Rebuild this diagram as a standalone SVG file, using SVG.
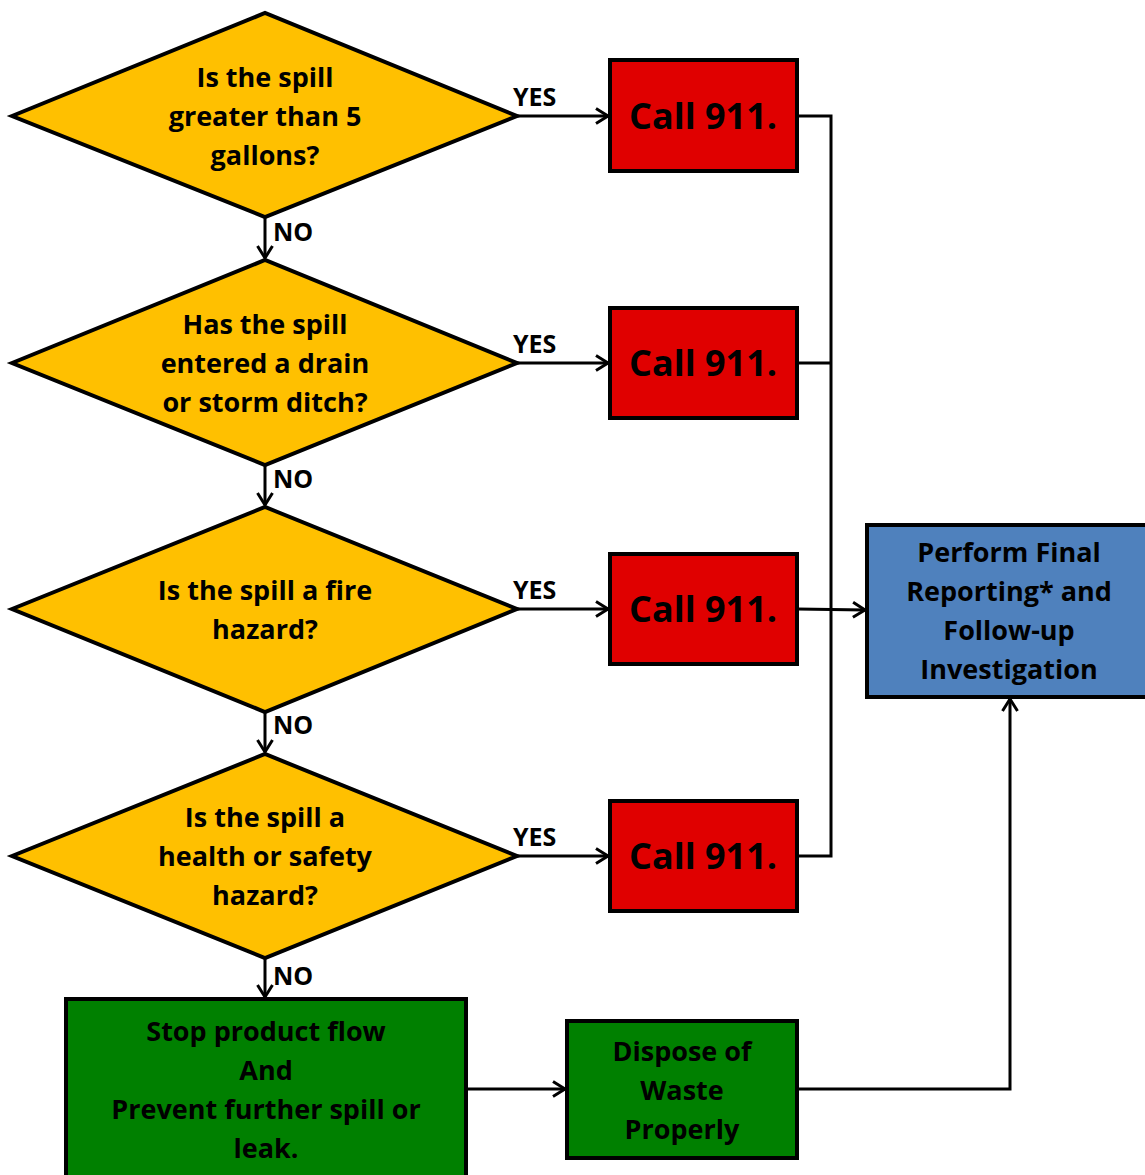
<svg xmlns="http://www.w3.org/2000/svg" width="1145" height="1175" viewBox="0 0 1145 1175">
<defs>
<marker id="arr" markerWidth="18" markerHeight="18" refX="14" refY="9" orient="auto" markerUnits="userSpaceOnUse">
<path d="M2,1.5 L14,9 L2,16.5" fill="none" stroke="#000" stroke-width="3"/>
</marker>
<style>
.dia{fill:#FFC000;stroke:#000;stroke-width:4;stroke-linejoin:miter}
.red{fill:#E00000;stroke:#000;stroke-width:4}
.blue{fill:#4F81BD;stroke:#000;stroke-width:4}
.green{fill:#008000;stroke:#000;stroke-width:4}
text{font-family:"Open Sans",Lato,"Liberation Sans",sans-serif;font-weight:bold;fill:#000;text-anchor:middle}
.t{font-size:27px}
.c{font-size:36px}
.lab{font-size:25px;text-anchor:start}
.con{fill:none;stroke:#000;stroke-width:3}
</style>
</defs>
<rect width="1145" height="1175" fill="#fff"/>
<g id="connectors">
<line class="con" x1="517" y1="116" x2="608" y2="116" marker-end="url(#arr)"/>
<line class="con" x1="517" y1="363" x2="608" y2="363" marker-end="url(#arr)"/>
<line class="con" x1="517" y1="609" x2="608" y2="609" marker-end="url(#arr)"/>
<line class="con" x1="517" y1="856" x2="608" y2="856" marker-end="url(#arr)"/>
<line class="con" x1="265" y1="217" x2="265" y2="258" marker-end="url(#arr)"/>
<line class="con" x1="265" y1="465" x2="265" y2="505" marker-end="url(#arr)"/>
<line class="con" x1="265" y1="712" x2="265" y2="752" marker-end="url(#arr)"/>
<line class="con" x1="265" y1="958" x2="265" y2="997" marker-end="url(#arr)"/>
<polyline class="con" points="797,116 831,116 831,856 797,856"/>
<line class="con" x1="797" y1="363" x2="831" y2="363"/>
<line class="con" x1="797" y1="609" x2="865" y2="610" marker-end="url(#arr)"/>
<line class="con" x1="466" y1="1089" x2="565" y2="1089" marker-end="url(#arr)"/>
<polyline class="con" points="797,1089 1010,1089 1010,699" marker-end="url(#arr)"/>
<text class="lab" x="513" y="106">YES</text>
<text class="lab" x="513" y="353">YES</text>
<text class="lab" x="513" y="599">YES</text>
<text class="lab" x="513" y="846">YES</text>
<text class="lab" x="273" y="241">NO</text>
<text class="lab" x="273" y="488">NO</text>
<text class="lab" x="273" y="734">NO</text>
<text class="lab" x="273" y="985">NO</text>
</g>
<g id="d1">
<polygon class="dia" points="12,116 265,13 517,116 265,217"/>
<text class="t" x="265" y="87">Is the spill</text>
<text class="t" x="265" y="126">greater than 5</text>
<text class="t" x="265" y="165">gallons?</text>
</g>
<g id="d2">
<polygon class="dia" points="12,363 265,260 517,363 265,465"/>
<text class="t" x="265" y="334">Has the spill</text>
<text class="t" x="265" y="373">entered a drain</text>
<text class="t" x="265" y="412">or storm ditch?</text>
</g>
<g id="d3">
<polygon class="dia" points="12,609 265,507 517,609 265,712"/>
<text class="t" x="265" y="600">Is the spill a fire</text>
<text class="t" x="265" y="639">hazard?</text>
</g>
<g id="d4">
<polygon class="dia" points="12,856 265,754 517,856 265,958"/>
<text class="t" x="265" y="827">Is the spill a</text>
<text class="t" x="265" y="866">health or safety</text>
<text class="t" x="265" y="905">hazard?</text>
</g>
<g id="r1"><rect class="red" x="610" y="60" width="187" height="111"/><text class="c" x="703" y="129">Call 911.</text></g>
<g id="r2"><rect class="red" x="610" y="308" width="187" height="110"/><text class="c" x="703" y="376">Call 911.</text></g>
<g id="r3"><rect class="red" x="610" y="554" width="187" height="110"/><text class="c" x="703" y="622">Call 911.</text></g>
<g id="r4"><rect class="red" x="610" y="801" width="187" height="110"/><text class="c" x="703" y="869">Call 911.</text></g>
<g id="blue">
<rect class="blue" x="867" y="525" width="285" height="172"/>
<text class="t" x="1009" y="562">Perform Final</text>
<text class="t" x="1009" y="601">Reporting* and</text>
<text class="t" x="1009" y="640">Follow-up</text>
<text class="t" x="1009" y="679">Investigation</text>
</g>
<g id="g1">
<rect class="green" x="66" y="999" width="400" height="190"/>
<text class="t" x="266" y="1041">Stop product flow</text>
<text class="t" x="266" y="1080">And</text>
<text class="t" x="266" y="1119">Prevent further spill or</text>
<text class="t" x="266" y="1158">leak.</text>
</g>
<g id="g2">
<rect class="green" x="567" y="1021" width="230" height="137"/>
<text class="t" x="682" y="1061">Dispose of</text>
<text class="t" x="682" y="1100">Waste</text>
<text class="t" x="682" y="1139">Properly</text>
</g>
</svg>
